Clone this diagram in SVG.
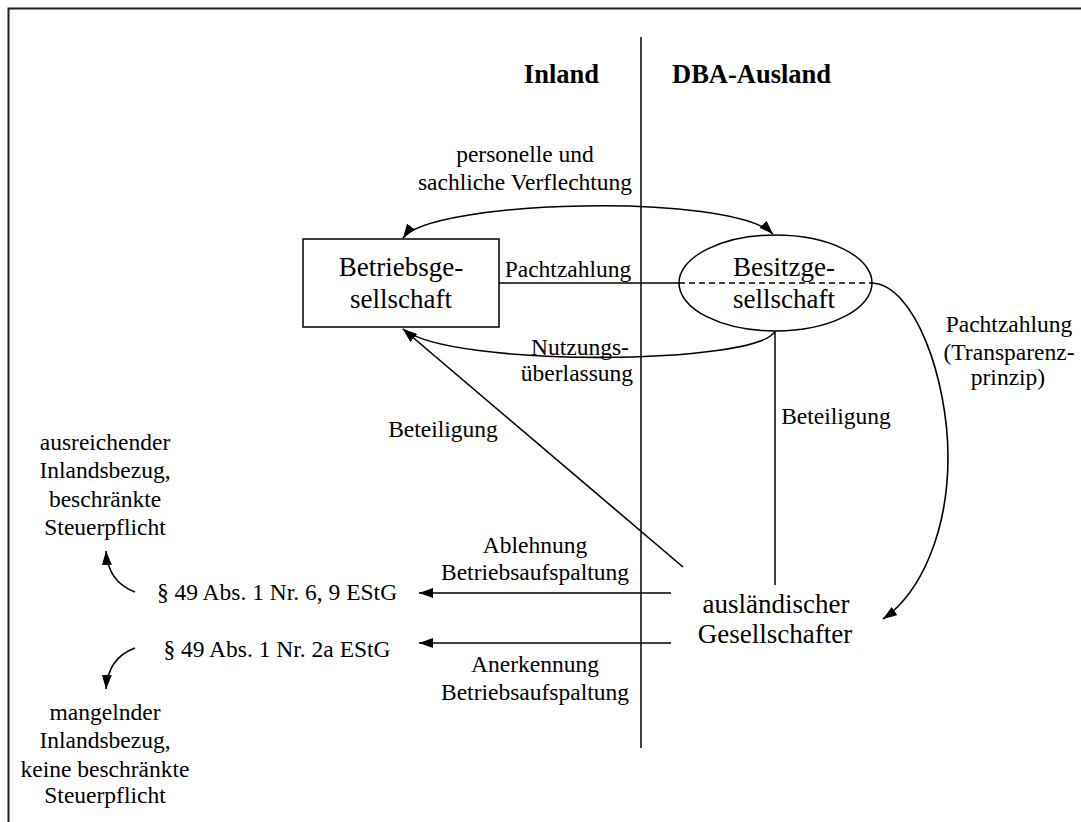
<svg xmlns="http://www.w3.org/2000/svg" width="1081" height="822" viewBox="0 0 1081 822" font-family="'Liberation Serif', 'DejaVu Serif', serif">
  <style>
    text { font-family: "Liberation Serif", "DejaVu Serif", serif; fill: #000; }
    .hdr { font-size: 26.5px; font-weight: bold; }
    .node { font-size: 27px; text-anchor: middle; }
    .lbl { font-size: 23.5px; text-anchor: middle; }
    .ln { fill: none; stroke: #000; stroke-width: 1.5; }
    .arr { fill: none; stroke: #000; stroke-width: 1.6; marker-end: url(#ah); }
    .dbl { fill: none; stroke: #000; stroke-width: 1.6; marker-start: url(#ah); marker-end: url(#ah); }
    .shape { fill: #fff; stroke: #000; stroke-width: 1.5; }
  </style>
  <defs>
    <marker id="ah" markerUnits="userSpaceOnUse" markerWidth="15" markerHeight="10" refX="14" refY="5" orient="auto-start-reverse">
      <path d="M0,0 L14,5 L0,10 z" fill="#000"/>
    </marker>
  </defs>

  <rect width="1081" height="822" fill="#fff"/>
  <!-- outer frame -->
  <rect x="8.5" y="8.5" width="1100" height="900" fill="none" stroke="#222" stroke-width="2"/>

  <!-- border line between the two jurisdictions -->
  <g id="border">
    <line x1="641" y1="37" x2="641" y2="748" class="ln"/>
    <text class="hdr" x="599" y="83" text-anchor="end">Inland</text>
    <text class="hdr" x="672" y="83">DBA-Ausland</text>
  </g>

  <g id="connectors">
    <!-- personelle und sachliche Verflechtung -->
    <path class="dbl" d="M403,238 C430,200 730,192 773,234"/>
    <!-- Pachtzahlung (solid up to the ellipse, dashed inside it) -->
    <line x1="499" y1="283" x2="679" y2="283" class="ln"/>
    <!-- Pachtzahlung (Transparenzprinzip) -->
    <path class="arr" d="M872,283 C915,285 948,380 948,457 C948,530 922,592 883,619"/>
    <!-- Nutzungsüberlassung -->
    <path class="arr" d="M775,331 C760,365 450,368 403,329"/>
    <!-- Beteiligung at Besitzgesellschaft -->
    <line x1="775" y1="331" x2="775" y2="585" class="ln"/>
    <!-- Beteiligung at Betriebsgesellschaft -->
    <path class="arr" d="M683,567 L403,329"/>
    <!-- Ablehnung / Anerkennung Betriebsaufspaltung -->
    <path class="arr" d="M671,593 L419,593"/>
    <path class="arr" d="M671,643 L419,643"/>
    <!-- consequences -->
    <path class="arr" d="M135,592 Q108,582 106,551"/>
    <path class="arr" d="M135,648 Q108,658 106,689"/>
  </g>

  <g id="betriebsgesellschaft">
    <rect class="shape" x="303" y="239" width="196" height="88"/>
    <text class="node" x="401" y="276">Betriebsge-</text>
    <text class="node" x="401" y="308">sellschaft</text>
  </g>

  <g id="besitzgesellschaft">
    <ellipse cx="775.5" cy="283" rx="96.5" ry="48" fill="none" stroke="#000" stroke-width="1.5"/>
    <line x1="679" y1="283" x2="872" y2="283" class="ln" stroke-dasharray="6,4"/>
    <text class="node" x="784" y="276">Besitzge-</text>
    <text class="node" x="784" y="308">sellschaft</text>
  </g>

  <g id="gesellschafter">
    <text class="node" x="776" y="613">ausländischer</text>
    <text class="node" x="775" y="643">Gesellschafter</text>
  </g>

  <g id="labels">
    <text class="lbl" x="525" y="162">personelle und</text>
    <text class="lbl" x="525" y="190">sachliche Verflechtung</text>
    <text class="lbl" x="568" y="277">Pachtzahlung</text>
    <text class="lbl" x="580" y="355">Nutzungs-</text>
    <text class="lbl" x="577" y="381">überlassung</text>
    <text class="lbl" x="836" y="424">Beteiligung</text>
    <text class="lbl" x="443" y="437">Beteiligung</text>
    <text class="lbl" x="1009" y="332">Pachtzahlung</text>
    <text class="lbl" x="1009" y="360">(Transparenz-</text>
    <text class="lbl" x="1008" y="385">prinzip)</text>
    <text class="lbl" x="535" y="553">Ablehnung</text>
    <text class="lbl" x="535" y="580">Betriebsaufspaltung</text>
    <text class="lbl" x="535" y="672">Anerkennung</text>
    <text class="lbl" x="535" y="700">Betriebsaufspaltung</text>
  </g>

  <g id="estg-6-9">
    <text class="lbl" x="277" y="600">§ 49 Abs. 1 Nr. 6, 9 EStG</text>
  </g>
  <g id="estg-2a">
    <text class="lbl" x="277" y="657">§ 49 Abs. 1 Nr. 2a EStG</text>
  </g>

  <g id="beschraenkte-steuerpflicht">
    <text class="lbl" x="105" y="450">ausreichender</text>
    <text class="lbl" x="105" y="478">Inlandsbezug,</text>
    <text class="lbl" x="105" y="507">beschränkte</text>
    <text class="lbl" x="105" y="535">Steuerpflicht</text>
  </g>

  <g id="keine-steuerpflicht">
    <text class="lbl" x="105" y="720">mangelnder</text>
    <text class="lbl" x="105" y="748">Inlandsbezug,</text>
    <text class="lbl" x="105" y="777">keine beschränkte</text>
    <text class="lbl" x="105" y="803">Steuerpflicht</text>
  </g>
</svg>
